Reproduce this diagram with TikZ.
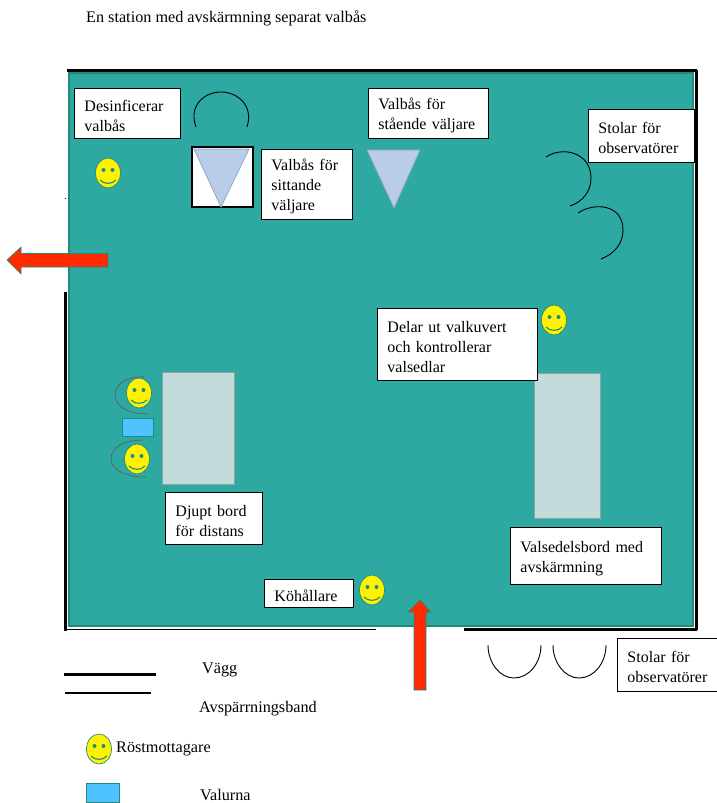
\documentclass[tikz,border=0pt]{standalone}
\usepackage{fontspec}
\usepackage{xcolor}
\setmainfont{Liberation Serif}
\definecolor{floorteal}{HTML}{2EA9A1}
\definecolor{floorline}{HTML}{1F8A7E}
\definecolor{tablefill}{HTML}{C3DCDB}
\definecolor{tableline}{HTML}{8FA5A5}
\definecolor{boothblue}{HTML}{B9CDE8}
\definecolor{boothline}{HTML}{8FA6C4}
\definecolor{urnblue}{HTML}{4FC3FF}
\definecolor{exitred}{HTML}{FF2A00}
\begin{document}
\begin{tikzpicture}[x=1pt,y=-1pt]
	\tikzstyle{plain}=[font=\fontsize{16.2}{20.5}\selectfont,inner sep=0pt,anchor=west,align=left]
	\tikzstyle{labelbox}=[font=\fontsize{16}{20}\selectfont,inner sep=0pt,align=left,draw=black,line width=0.9pt,fill=white,anchor=north west,inner xsep=10pt,execute at begin node={\rule{0pt}{16pt}}]
	\tikzstyle{wall}=[line width=3pt,black]
	\tikzstyle{chair}=[line width=0.9pt,black]
	\tikzstyle{thinchair}=[line width=0.6pt,black!65]
	\tikzstyle{booth}=[fill=boothblue,draw=boothline,line width=0.8pt]
	\tikzstyle{deeptable}=[fill=tablefill,draw=tableline,line width=1pt]
	\tikzstyle{urn}=[fill=urnblue,draw=floorline,line width=0.8pt]
	\tikzstyle{exitarrow}=[fill=exitred,draw=floorline,line width=0.6pt]
	\tikzset{smiley/.pic={
		\path[fill=yellow,draw=floorline,line width=0.7pt] (0,0) ellipse [x radius=12.5,y radius=15];
		\path[fill=floorline] (-4.5,-3) circle (2) (4.5,-3) circle (2);
		\draw[floorline,line width=1.1pt] (-8,7) .. controls (-4,11.5) and (4,11.5) .. (8,7);
	}}
	\useasboundingbox (0,0) rectangle (716,803);

	\node[plain] (title) at (86,18) {En station med avskärmning separat valbås};

	% room
	\draw[fill=floorteal,draw=floorline,line width=2pt] (69,73) rectangle (693,626);
	\draw[wall] (67,70) -- (697,70);
	\draw[wall] (696,70) -- (696,630);
	\draw[wall] (65,292) -- (65,631);
	\draw[wall,line width=1.6pt] (65,629.5) -- (376,629.5);
	\draw[wall] (464,629.5) -- (697,629.5);
	\draw[black,line width=0.6pt] (64.5,198) -- (66,198);

	% booths
	\draw[fill=white,draw=black,line width=1.1pt] (192,147) rectangle (253,207);
	\draw[booth] (194,149) -- (249,149) -- (221,207) -- cycle;
	\draw[booth] (367,150) -- (420,150) -- (394,208) -- cycle;

	% tables
	\draw[deeptable] (162,372) rectangle (234,484);
	\draw[deeptable] (534,373) rectangle (600,518);
	\draw[urn] (122,418) rectangle (153,436);

	% chairs
	\draw[chair] (196,127) .. controls (188,105) and (205,92) .. (221,92) .. controls (237,92) and (254,105) .. (247,127);
	\draw[chair] (546,157) .. controls (562,146) and (591,152) .. (591,178) .. controls (591,192) and (582,202) .. (570,206);
	\draw[chair] (578,213) .. controls (594,202) and (623,204) .. (623,230) .. controls (623,244) and (614,254) .. (601,259);
	\draw[chair] (488,645) .. controls (488,663) and (500,678) .. (514,678) .. controls (529,678) and (541,663) .. (541,645);
	\draw[chair] (553,645) .. controls (553,663) and (565,678) .. (579,678) .. controls (594,678) and (606,663) .. (606,645);
	\draw[thinchair] (144,377) .. controls (126,376) and (115,385) .. (115,395) .. controls (115,406) and (128,414) .. (148,414);
	\draw[thinchair] (143,440) .. controls (122,440) and (111,449) .. (111,459) .. controls (111,469) and (124,477) .. (146,477);

	% voters' staff
	\pic at (108,173) {smiley};
	\pic at (139,393) {smiley};
	\pic at (137,459) {smiley};
	\pic at (554,320) {smiley};
	\pic at (372,590) {smiley};

	% arrows
	\draw[exitarrow] (7,260) -- (21,247) -- (21,253.5) -- (108,253.5) -- (108,267) -- (21,267) -- (21,274) -- cycle;
	\draw[exitarrow] (420,600) -- (431,612) -- (426,612) -- (426,690) -- (414,690) -- (414,612) -- (408,612) -- cycle;

	% labels
	\node[labelbox,text width=86pt,minimum height=50pt] (disinfect) at (74,88) {Desinficerar\\valbås};
	\node[labelbox,text width=71pt,minimum height=70pt] (seated) at (261,149) {Valbås för\\sittande\\väljare};
	\node[labelbox,text width=100pt,minimum height=50pt] (standing) at (368,88) {Valbås för\\stående väljare};
	\node[labelbox,text width=86pt,minimum height=53pt] (observers) at (588,109) {Stolar för\\observatörer};
	\node[labelbox,text width=140pt,minimum height=72pt] (envelopes) at (377,308) {Delar ut valkuvert\\och kontrollerar\\valsedlar};
	\node[labelbox,text width=77pt,minimum height=52pt] (distance) at (165,492) {Djupt bord\\för distans};
	\node[labelbox,text width=131pt,minimum height=57pt] (ballots) at (510,527) {Valsedelsbord med\\avskärmning};
	\node[labelbox,text width=69pt,minimum height=28pt] (queue) at (264,579) {Köhållare};
	\node[labelbox,text width=85pt,minimum height=53pt] (observerstwo) at (617,638) {Stolar för\\observatörer};

	% legend
	\draw[wall] (64,674) -- (156,674);
	\draw[black,line width=1.3pt] (65,693) -- (151,693);
	\pic at (99,749) {smiley};
	\draw[urn] (86,783) rectangle (119,802);
	\node[plain] (wallkey) at (202,670) {Vägg};
	\node[plain] (tapekey) at (199,708.5) {Avspärrningsband};
	\node[plain] (staffkey) at (116,749) {Röstmottagare};
	\node[plain] (urnkey) at (200,795) {Valurna};
\end{tikzpicture}
\end{document}
